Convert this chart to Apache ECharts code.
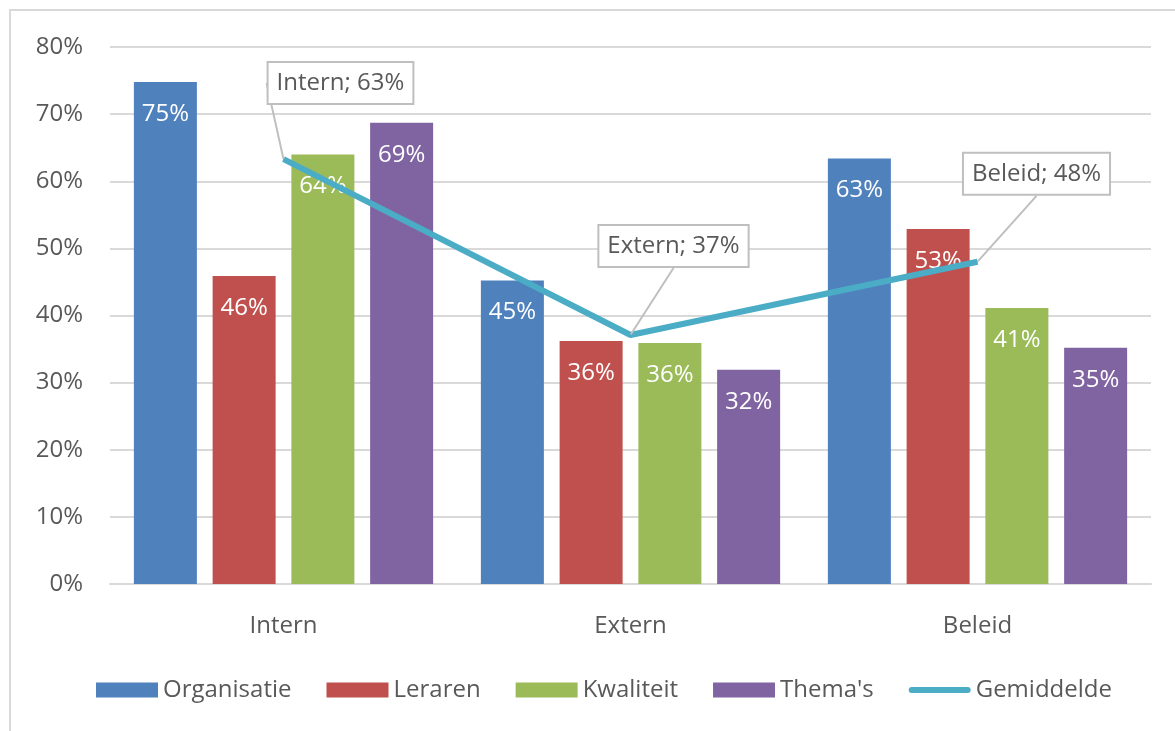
<!DOCTYPE html>
<html>
<head>
<meta charset="utf-8">
<script src="https://cdn.jsdelivr.net/npm/echarts@6/dist/echarts.min.js"></script>
<style>
  html, body { margin: 0; padding: 0; background: #fff; }
  #frame { position: absolute; left: 9px; top: 9px; width: 1175px; height: 731px;
           border-left: 2px solid #d9d9d9; border-top: 2px solid #d9d9d9; }
  #chart { position: absolute; left: 0; top: 0; width: 1175px; height: 731px; }
</style>
</head>
<body>
<div id="frame"></div>
<div id="chart"></div>
<script>
const categories = ["Intern", "Extern", "Beleid"];
const organisatie = [74.8, 45.2, 63.4];
const leraren = [45.9, 36.2, 52.9];
const kwaliteit = [64.0, 35.9, 41.1];
const themas = [68.7, 31.9, 35.2];
const gemiddelde = [63.3, 37.1, 48.0];
const yTicks = [0, 10, 20, 30, 40, 50, 60, 70, 80];

const font = "Open Sans";
const grey = "#595959";

// speech-bubble offsets for the average labels (box centre relative to point)
const calloutOffsets = [[57, -76], [43, -89], [59, -88]];

function barSeries(name, data, color) {
  return {
    name: name,
    type: "bar",
    data: data,
    barWidth: 63,
    barGap: "25%",
    itemStyle: { color: color },
    label: {
      show: true,
      position: "insideTop",
      distance: 20,
      color: "#fff",
      fontFamily: font,
      fontSize: 24,
      formatter: p => Math.round(p.value) + "%"
    },
    z: 2
  };
}

const chart = echarts.init(document.getElementById("chart"));
const option = {
  animation: false,
  textStyle: { fontFamily: font },
  grid: { left: 110, right: 24, top: 47, bottom: 147 },
  legend: {
    bottom: 24,
    left: 91,
    itemWidth: 62,
    itemHeight: 15,
    itemGap: 35,
    symbolKeepAspect: true,
    textStyle: { color: grey, fontSize: 24, fontFamily: font },
    data: [
      { name: "Organisatie", icon: "rect" },
      { name: "Leraren", icon: "rect" },
      { name: "Kwaliteit", icon: "rect" },
      { name: "Thema's", icon: "rect" },
      { name: "Gemiddelde", icon: "path://M3,0H59A3,3,0,0,1,59,6H3A3,3,0,0,1,3,0Z", itemStyle: { color: "#4bacc6" } }
    ]
  },
  xAxis: {
    type: "category",
    data: categories,
    axisLine: { lineStyle: { color: "#d9d9d9", width: 2 } },
    axisTick: { show: false },
    axisLabel: { color: grey, fontSize: 24, margin: 30 }
  },
  yAxis: {
    type: "value",
    min: yTicks[0],
    max: yTicks[yTicks.length - 1],
    interval: 10,
    axisLine: { show: false },
    axisTick: { show: false },
    splitLine: { lineStyle: { color: "#d9d9d9", width: 2 } },
    axisLabel: { color: grey, fontSize: 24, margin: 27, formatter: "{value}%" }
  },
  series: [
    barSeries("Organisatie", organisatie, "#4f81bd"),
    barSeries("Leraren", leraren, "#c0504d"),
    barSeries("Kwaliteit", kwaliteit, "#9bbb59"),
    barSeries("Thema's", themas, "#8064a2"),
    {
      name: "Gemiddelde",
      type: "line",
      data: gemiddelde,
      symbol: "circle",
      symbolSize: 1,
      lineStyle: { color: "#4bacc6", width: 6 },
      itemStyle: { color: "#4bacc6" },
      z: 5,
      label: {
        show: true,
        position: "inside",
        color: grey,
        fontFamily: font,
        fontSize: 24,
        backgroundColor: "#fff",
        borderColor: "#bfbfbf",
        borderWidth: 2,
        padding: [9, 8, 7, 8],
        formatter: p => p.name + "; " + Math.round(p.value) + "%"
      },
      labelLine: { show: true, lineStyle: { color: "#bfbfbf", width: 2 } },
      labelLayout: p => ({
        dx: calloutOffsets[p.dataIndex][0],
        dy: calloutOffsets[p.dataIndex][1]
      })
    }
  ]
};
chart.setOption(option);
</script>
</body>
</html>
